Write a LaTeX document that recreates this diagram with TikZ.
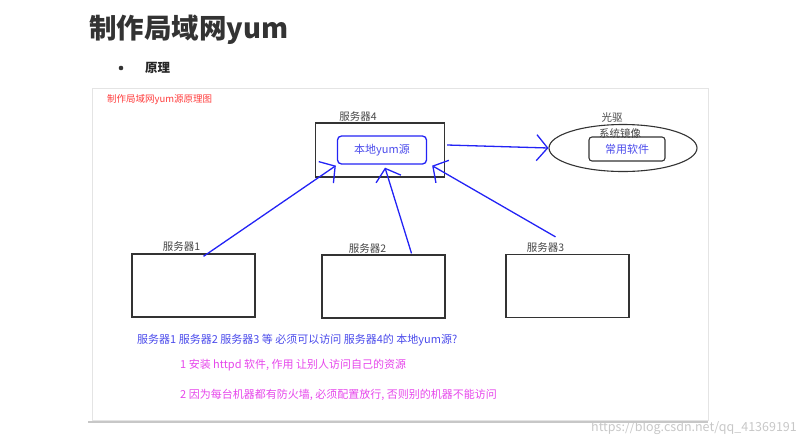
\documentclass[tikz,border=0pt]{standalone}
\usepackage{fontspec}
\setmainfont{Noto Sans CJK SC}
\usepackage{xcolor}
\usetikzlibrary{arrows.meta,positioning,calc,shapes.geometric}

\definecolor{penblue}{RGB}{35,35,245}
\definecolor{inkblue}{RGB}{75,75,235}
\definecolor{notered}{RGB}{255,60,60}
\definecolor{notepink}{RGB}{230,70,235}
\definecolor{labelgray}{RGB}{70,70,70}
\definecolor{framegray}{RGB}{228,228,228}

\begin{document}
\begin{tikzpicture}[x=1pt,y=-1pt,font=\fontsize{9}{11}\selectfont,>={Straight Barb[length=11pt,width=26pt]},
  server/.style={draw=black!80,line width=1.3pt,minimum width=123pt,minimum height=63pt,inner sep=0pt},
  srvlabel/.style={text=labelgray,font=\fontsize{10.5}{12}\selectfont,inner sep=1pt},
  pen/.style={draw=penblue,line width=1.3pt},
  note/.style={anchor=west,font=\fontsize{11}{13}\selectfont,inner sep=0pt}]
  \useasboundingbox (0,0) rectangle (805,445);
  % page heading
  \node[anchor=west,text=black!80,font=\fontsize{27.5}{31}\selectfont\bfseries,inner sep=0pt] (title) at (89,30) {制作局域网yum};
  \fill[black!80] (121,68) circle (2.3);
  \node[anchor=west,text=black!85,font=\fontsize{12.5}{14}\selectfont\bfseries,inner sep=0pt] (sub) at (145,68) {原理};
  % picture frame
  \draw[framegray,line width=0.8pt] (92,88) rectangle (708,420);
  \draw[black!22,line width=2pt] (88,422) -- (708,422);
  \node[anchor=west,text=notered,font=\fontsize{9.5}{11}\selectfont,inner sep=0pt] (cap) at (107,100) {制作局域网yum源原理图};

  % yum server and disc
  \node[server,minimum width=129pt,minimum height=54pt] (srv4) at (380,150) {};
  \node[srvlabel,above=0pt of srv4.north,xshift=-22pt] (l4) {服务器4};
  \node[draw=penblue,line width=1.3pt,rounded corners=4pt,minimum width=89pt,minimum height=28pt,inner sep=0pt,text=inkblue,font=\fontsize{11}{13}\selectfont] (yum) at (382,150) {本地yum源};
  \node[draw=black!80,line width=1.1pt,ellipse,minimum width=148pt,minimum height=47pt,inner sep=0pt] (disc) at (623,148) {};
  \node[srvlabel] (drive) at (612,118) {光驱};
  \node[srvlabel] (image) at (620,133) {系统镜像};
  \node[draw=black!80,line width=1.1pt,rounded corners=3pt,minimum width=76pt,minimum height=24pt,inner sep=0pt,text=inkblue,font=\fontsize{11}{13}\selectfont] (soft) at (627,149) {常用软件};

  % client servers
  \node[server] (s1) at (193.5,285.5) {};
  \node[server] (s2) at (383.5,286.5) {};
  \node[server] (s3) at (567.5,286) {};
  \node[srvlabel,above=1pt of s1.north,xshift=-12pt] (l1) {服务器1};
  \node[srvlabel,above=0pt of s2.north,xshift=-16pt] (l2) {服务器2};
  \node[srvlabel,above=0pt of s3.north,xshift=-22pt] (l3) {服务器3};

  % access paths
  \draw[pen,->] ($(srv4.east)+(2,-5)$) -- (disc.west);
  \draw[pen,->] ($(s1.north)+(10,3)$) -- ($(yum.south west)+(-1,1)$);
  \draw[pen,->] ($(s2.north)+(28,-1)$) -- ($(yum.south)+(3,3)$);
  \draw[pen,->] ($(s3.north)+(-12,-17)$) -- ($(yum.south east)+(5,1)$);

  % notes
  \node[note,text=inkblue] (q) at (137,340) {服务器1 服务器2 服务器3 等 必须可以访问 服务器4的 本地yum源?};
  \node[note,text=notepink] (n1) at (180,365) {1 安装 httpd 软件, 作用 让别人访问自己的资源};
  \node[note,text=notepink] (n2) at (180,395) {2 因为每台机器都有防火墙, 必须配置放行, 否则别的机器不能访问};
  \node[anchor=east,text=black!22,font=\fontsize{12.5}{14}\selectfont,inner sep=0pt] (mark) at (797,428) {https://blog.csdn.net/qq\_41369191};
\end{tikzpicture}
\end{document}
